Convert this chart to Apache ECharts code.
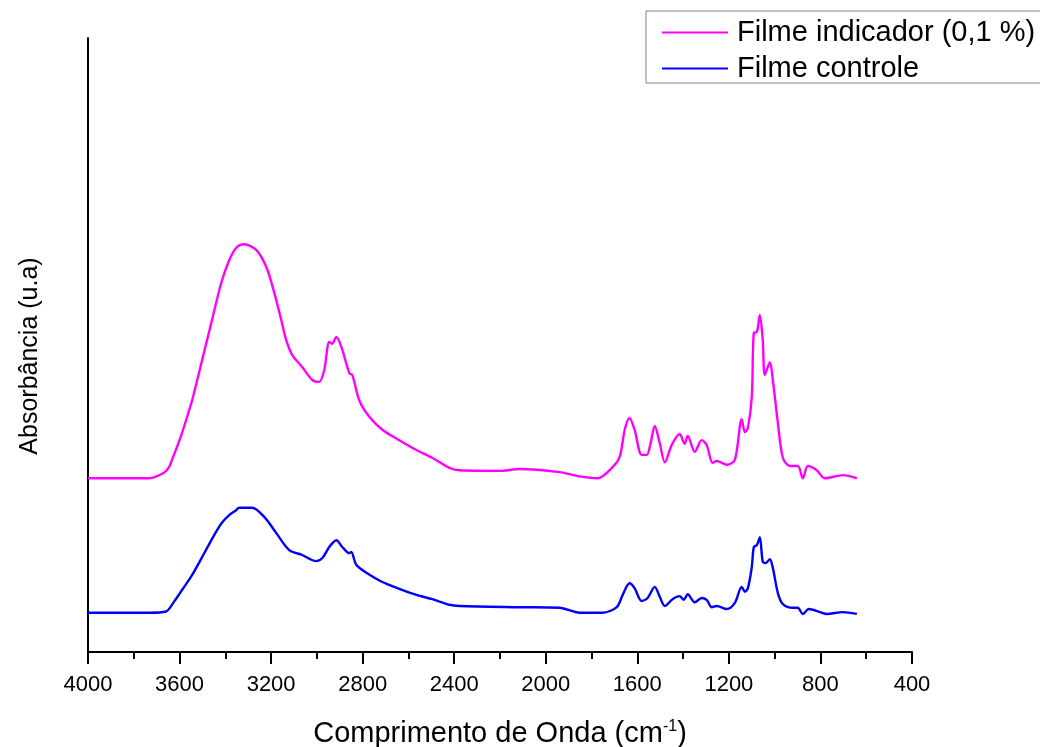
<!DOCTYPE html>
<html>
<head>
<meta charset="utf-8">
<script src="https://cdn.jsdelivr.net/npm/echarts@6/dist/echarts.min.js"></script>
<style>
html,body{margin:0;padding:0;background:#fff;}
#chart{width:1040px;height:747px;}
</style>
</head>
<body>
<div id="chart"></div>
<script>
// Wavenumber (cm-1) and absorbance (arbitrary units)
const indicadorWn = [4000,3733,3668,3646,3633,3611,3589,3567,3545,3501,3458,3418,3383,3353,3318,3265,3221,3186,3156,3134,3108,3064,3020,2990,2968,2946,2933,2915,2893,2858,2845,2815,2771,2714,2640,2565,2495,2421,2377,2202,2115,1940,1852,1774,1708,1677,1655,1634,1612,1581,1559,1542,1524,1502,1480,1450,1415,1393,1380,1349,1319,1297,1271,1253,1209,1174,1144,1130,1117,1100,1091,1078,1065,1052,1043,1021,1008,986,964,934,899,877,855,816,781,702,641];
const indicadorAbs = [28.3,28.3,29.2,30.1,31.3,33.4,35.7,38.3,41.0,47.6,54.1,60.1,63.8,65.8,66.4,65.5,62.7,58.5,54.1,50.8,48.4,46.4,44.3,44.0,45.9,50.5,50.2,51.3,49.7,45.4,45.1,41.0,38.3,36.2,34.5,32.9,31.6,30.0,29.6,29.5,29.8,29.3,28.6,28.3,30.1,31.8,36.2,38.1,36.2,32.1,32.1,34.0,36.8,34.0,30.9,33.7,35.5,33.9,35.2,32.6,34.5,33.7,30.8,31.1,30.5,31.3,37.9,35.8,36.5,41.5,52.0,52.1,54.9,50.8,45.1,47.2,44.3,37.3,31.6,30.3,30.3,28.3,30.3,29.6,28.3,28.8,28.3];

const controleWn = [4000,3733,3659,3624,3589,3549,3514,3479,3440,3414,3383,3353,3340,3283,3230,3178,3121,3064,3003,2976,2946,2915,2889,2858,2850,2828,2784,2714,2640,2565,2495,2421,2377,2115,1940,1852,1752,1690,1664,1634,1612,1581,1555,1524,1502,1480,1446,1415,1397,1380,1349,1319,1297,1275,1253,1209,1174,1144,1130,1117,1100,1091,1078,1065,1052,1039,1021,1008,986,964,921,899,877,851,802,772,702,641];
const controleAbs = [6.4,6.4,6.6,8.2,10.1,12.3,14.6,17.0,19.6,21.1,22.3,23.1,23.5,23.5,22.0,19.4,16.6,15.8,14.8,15.3,17.1,18.2,17.1,16.1,16.3,14.2,12.9,11.4,10.3,9.3,8.6,7.7,7.5,7.3,7.2,6.4,6.4,7.3,9.3,11.2,10.4,8.3,8.8,10.6,9.0,7.5,8.6,9.1,8.5,9.4,8.1,8.8,8.5,7.3,7.5,7.0,8.0,10.6,9.8,10.4,13.8,17.1,17.4,18.7,14.7,14.5,15.1,13.7,9.6,7.8,7.2,7.2,6.2,7.0,6.5,6.2,6.5,6.2];

const seriesNames = ['Filme indicador (0,1 %)', 'Filme controle'];
const xTicks = [4000,3600,3200,2800,2400,2000,1600,1200,800,400];

const FONT = '"Liberation Sans", Arial, sans-serif';
const zip = (a, b) => a.map((v, i) => [v, b[i]]);

const chart = echarts.init(document.getElementById('chart'), null, {renderer: 'canvas'});
chart.setOption({
  backgroundColor: '#ffffff',
  animation: false,
  grid: {left: 88, right: 128, top: 38, bottom: 95, containLabel: false, outerBoundsMode: 'none'},
  legend: {
    orient: 'vertical',
    left: 646, top: 11,
    padding: [7, 30, 0, 16],
    itemWidth: 66, itemHeight: 2, itemGap: 7,
    icon: 'rect',
    borderColor: '#808080', borderWidth: 1,
    textStyle: {fontFamily: FONT, fontSize: 29, lineHeight: 26, color: '#000', padding: [0, 0, 0, 4]},
    data: seriesNames
  },
  xAxis: {
    type: 'value', inverse: true, min: 400, max: 4000, interval: 400,
    name: '{t|Comprimento de Onda (cm}{s|-1}{t|)}',
    nameLocation: 'middle', nameGap: 67,
    nameTextStyle: {
      rich: {
        t: {fontFamily: FONT, fontSize: 29, color: '#000'},
        s: {fontFamily: FONT, fontSize: 16, color: '#000', verticalAlign: 'top'}
      }
    },
    axisLine: {show: true, onZero: false, lineStyle: {color: '#000', width: 2}},
    axisTick: {show: true, length: 12, lineStyle: {color: '#000', width: 2}},
    minorTick: {show: true, splitNumber: 2, length: 7, lineStyle: {color: '#000', width: 2}},
    axisLabel: {
      margin: 22, fontFamily: FONT, fontSize: 22, color: '#000',
      formatter: v => xTicks.indexOf(v) >= 0 ? String(v) : ''
    },
    splitLine: {show: false}
  },
  yAxis: {
    type: 'value', min: 0, max: 100,
    name: 'Absorbância (u.a)', nameLocation: 'middle', nameGap: 45, nameRotate: 90,
    nameTextStyle: {fontFamily: FONT, fontSize: 25, color: '#000', padding: [0, 22, 0, 0]},
    axisLine: {show: true, onZero: false, lineStyle: {color: '#000', width: 2}},
    axisTick: {show: false}, axisLabel: {show: false}, splitLine: {show: false}
  },
  series: [
    {name: seriesNames[0], type: 'line', symbol: 'none', smooth: 0.3,
     lineStyle: {color: '#FF00FF', width: 2.4}, itemStyle: {color: '#FF00FF'},
     data: zip(indicadorWn, indicadorAbs)},
    {name: seriesNames[1], type: 'line', symbol: 'none', smooth: 0.3,
     lineStyle: {color: '#0000FF', width: 2.4}, itemStyle: {color: '#0000FF'},
     data: zip(controleWn, controleAbs)}
  ]
});
</script>
</body>
</html>
